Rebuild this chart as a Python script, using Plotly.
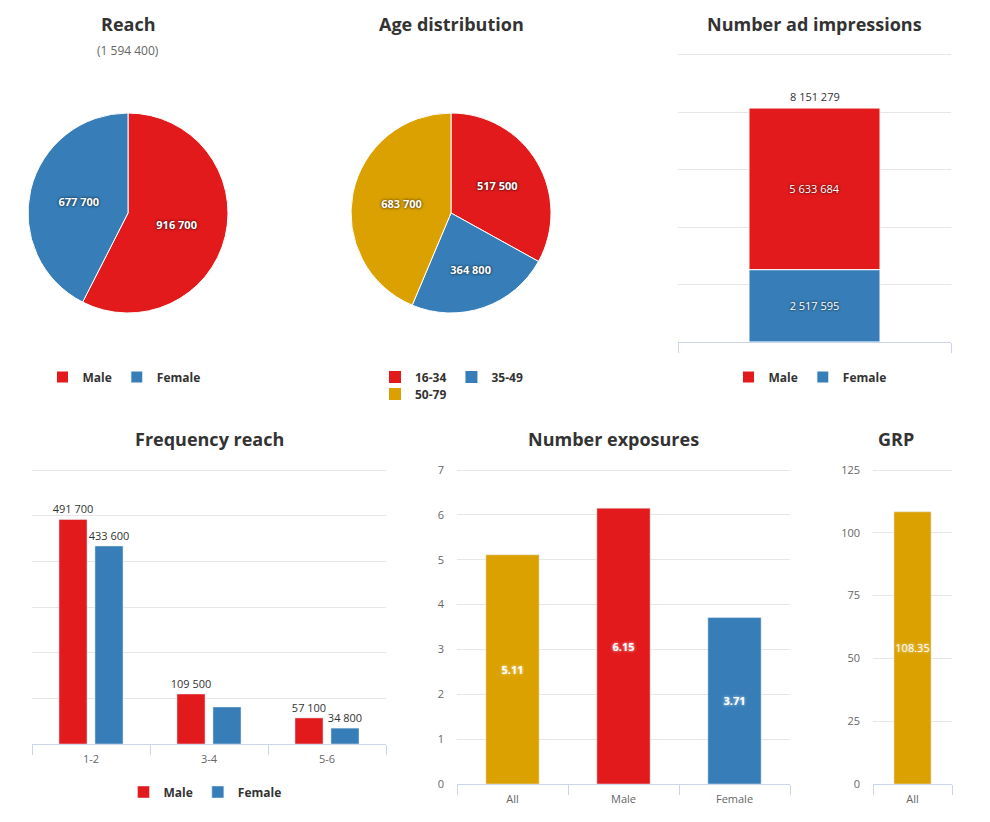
import plotly.graph_objects as go

FONT = "Open Sans"
RED = "#e31a1c"
BLUE = "#377eb8"
GOLD = "#dba100"
GRID = "#e6e6e6"
AXIS = "#ccd6eb"

# ---------------- data ----------------
reach_labels = ["Male", "Female"]
reach_values = [916700, 677700]
reach_total = 1594400

age_labels = ["16-34", "35-49", "50-79"]
age_values = [517500, 364800, 683700]

imp_category = ["Total"]
imp_male = [5633684]
imp_female = [2517595]

freq_categories = ["1-2", "3-4", "5-6"]
freq_male = [491700, 109500, 57100]
freq_female = [433600, 81000, 34800]
freq_female_show = [True, False, True]

exp_categories = ["All", "Male", "Female"]
exp_values = [5.11, 6.15, 3.71]

grp_categories = ["All"]
grp_values = [108.35]

# page has an 8px body margin; figure sized so the page fills the window
OFF = 8
W, H = 990 - OFF, 822 - OFF


def X(px):
    return (px - OFF) / W


def Y(py):
    return 1 - (py - OFF) / H


def fmt(v):
    return f"{v:,}".replace(",", " ")


fig = go.Figure()

shadow_dark = "0px 0px 3px rgba(0,0,0,0.9)"
shadow_light = "0px 0px 3px rgba(255,255,255,0.85)"

# ---------------- pies ----------------
fig.add_trace(go.Pie(
    labels=reach_labels, values=reach_values, sort=False, direction="clockwise",
    rotation=0, marker=dict(colors=[RED, BLUE], line=dict(color="white", width=1)),
    texttemplate="%{value:,}", textposition="inside", insidetextorientation="horizontal",
    textfont=dict(family=FONT, size=11, color="white", weight="bold", shadow=shadow_dark),
    domain=dict(x=[X(28), X(228)], y=[Y(313), Y(113)]),
    legend="legend", showlegend=True, hoverinfo="label+value",
))

fig.add_trace(go.Pie(
    labels=age_labels, values=age_values, sort=False, direction="clockwise",
    rotation=0, marker=dict(colors=[RED, BLUE, GOLD], line=dict(color="white", width=1)),
    texttemplate="%{value:,}", textposition="inside", insidetextorientation="horizontal",
    textfont=dict(family=FONT, size=11, color="white", weight="bold", shadow=shadow_dark),
    domain=dict(x=[X(351), X(551)], y=[Y(313), Y(113)]),
    showlegend=False, hoverinfo="label+value",
))

# legend entries for age distribution (two rows)
for lab, col, lg in zip(age_labels, [RED, BLUE, GOLD], ["legend2", "legend2", "legend3"]):
    fig.add_trace(go.Scatter(
        x=[None], y=[None], mode="markers", name=lab,
        marker=dict(symbol="square", size=12, color=col),
        xaxis="x5", yaxis="y5", legend=lg, showlegend=True,
    ))

# ---------------- number ad impressions (stacked via base) ----------------
fig.add_trace(go.Bar(
    x=imp_category, y=imp_male, base=imp_female, name="Male",
    marker=dict(color=RED, line=dict(color="white", width=1)),
    text=[fmt(v) for v in imp_male], textposition="inside", insidetextanchor="middle", textangle=0,
    textfont=dict(family=FONT, size=11, color="white", shadow=shadow_dark), constraintext="none",
    offsetgroup="imp", width=0.48, xaxis="x4", yaxis="y4", legend="legend4",
))
fig.add_trace(go.Bar(
    x=imp_category, y=imp_female, name="Female",
    marker=dict(color=BLUE, line=dict(color="white", width=1)),
    text=[fmt(v) for v in imp_female], textposition="inside", insidetextanchor="middle", textangle=0,
    textfont=dict(family=FONT, size=11, color="white", shadow=shadow_dark), constraintext="none",
    offsetgroup="imp", width=0.48, xaxis="x4", yaxis="y4", legend="legend4",
))

# ---------------- frequency reach ----------------
fig.add_trace(go.Bar(
    x=freq_categories, y=freq_male, name="Male", marker=dict(color=RED),
    text=[fmt(v) for v in freq_male], textposition="outside", textangle=0, constraintext="none",
    textfont=dict(family=FONT, size=11, color="#333333"), cliponaxis=False,
    xaxis="x", yaxis="y", legend="legend5",
))
fig.add_trace(go.Bar(
    x=freq_categories, y=freq_female, name="Female", marker=dict(color=BLUE),
    text=[fmt(v) if s else "" for v, s in zip(freq_female, freq_female_show)],
    textposition="outside", textangle=0, constraintext="none",
    textfont=dict(family=FONT, size=11, color="#333333"), cliponaxis=False,
    xaxis="x", yaxis="y", legend="legend5",
))

# ---------------- number exposures ----------------
fig.add_trace(go.Bar(
    x=exp_categories, y=exp_values, marker=dict(color=[GOLD, RED, BLUE]),
    texttemplate="%{y:.2f}", textposition="inside", insidetextanchor="middle", textangle=0,
    textfont=dict(family=FONT, size=11, color="white", weight="bold", shadow=shadow_light),
    constraintext="none", width=0.48,
    xaxis="x2", yaxis="y2", showlegend=False,
))

# ---------------- GRP ----------------
fig.add_trace(go.Bar(
    x=grp_categories, y=grp_values, marker=dict(color=GOLD),
    texttemplate="%{y:.2f}", textposition="inside", insidetextanchor="middle", textangle=0,
    textfont=dict(family=FONT, size=11, color="white", shadow=shadow_light),
    constraintext="none", width=0.47,
    xaxis="x3", yaxis="y3", showlegend=False,
))

# ---------------- axes ----------------
tickfont = dict(family=FONT, size=11, color="#666666")


def xax(x0, x1, anchor, show_labels=True):
    return dict(domain=[X(x0), X(x1)], anchor=anchor, showline=True, linecolor=AXIS, linewidth=1,
                ticks="outside", tickson="boundaries", ticklen=10, tickcolor=AXIS,
                showgrid=False, zeroline=False, tickfont=tickfont, showticklabels=show_labels,
                ticklabelstandoff=5, fixedrange=True)


EXT = 0.012  # small headroom so the top grid line is not clipped at the plot edge


def yax(y0, y1, top, dtick, anchor, show_labels=True):
    ytop = y0 - (y1 - y0) * EXT
    return dict(domain=[Y(y1), Y(ytop)], range=[0, top * (1 + EXT)], dtick=dtick, tick0=0,
                showgrid=True, gridcolor=GRID, gridwidth=1, zeroline=False, showline=False,
                ticks="", tickfont=tickfont, showticklabels=show_labels, fixedrange=True,
                ticklabelstandoff=12, anchor=anchor)


legfont = dict(family=FONT, size=12, color="#333333", weight="bold")


def leg(x, y, xanchor="center"):
    return dict(orientation="h", x=x, y=y, xanchor=xanchor, yanchor="middle", font=legfont,
                bgcolor="rgba(0,0,0,0)", itemclick=False, itemdoubleclick=False,
                tracegroupgap=0)


titlefont = dict(family=FONT, size=18, color="#333333", weight="bold")
annotations = []
for text, cx, cy in [("Reach", 128, 24), ("Age distribution", 451, 24),
                     ("Number ad impressions", 814, 24), ("Frequency reach", 209, 439),
                     ("Number exposures", 613, 439), ("GRP", 896, 439)]:
    annotations.append(dict(text=text, x=X(cx), y=Y(cy), xref="paper", yref="paper",
                            xanchor="center", yanchor="middle", showarrow=False, font=titlefont))
annotations.append(dict(text="(" + fmt(reach_total) + ")", x=X(128), y=Y(50), xref="paper",
                        yref="paper", xanchor="center", yanchor="middle", showarrow=False,
                        font=dict(family=FONT, size=12, color="#666666")))
# stacked total label
annotations.append(dict(text=fmt(imp_male[0] + imp_female[0]), x=imp_category[0],
                        y=imp_male[0] + imp_female[0], xref="x4", yref="y4",
                        xanchor="center", yanchor="bottom", yshift=2, showarrow=False,
                        font=dict(family=FONT, size=11, color="#333333")))

fig.update_layout(
    width=W, height=H, margin=dict(l=0, r=0, t=0, b=0, autoexpand=False),
    paper_bgcolor="white", plot_bgcolor="white",
    font=dict(family=FONT, color="#333333"),
    separators=". ",
    barmode="group", bargap=0.39, bargroupgap=0.22,
    xaxis=xax(32, 386, "y"), yaxis=yax(470, 744, 600000, 100000, "x", show_labels=False),
    xaxis2=xax(457, 790, "y2"), yaxis2=yax(470, 784, 7, 1, "x2"),
    xaxis3=xax(873, 952, "y3"), yaxis3=yax(470, 784, 125, 25, "x3"),
    xaxis4=xax(678, 951, "y4", show_labels=False),
    yaxis4=yax(55, 342, 10000000, 2000000, "x4", show_labels=False),
    xaxis5=dict(domain=[0, 0.01], visible=False, anchor="y5"),
    yaxis5=dict(domain=[0, 0.01], visible=False, anchor="x5"),
    legend=leg(X(124), Y(377)),
    legend2=leg(X(375), Y(377), "left"),
    legend3=leg(X(375), Y(394), "left"),
    legend4=leg(X(810), Y(377)),
    legend5=leg(X(205), Y(792)),
    annotations=annotations,
    showlegend=True,
)

fig.write_html("out.html")
